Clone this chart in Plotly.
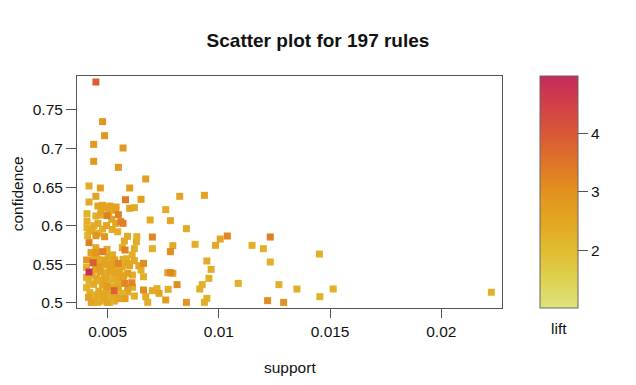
import numpy as np
import plotly.graph_objects as go

support = [
    0.00447, 0.00477, 0.00486, 0.00437, 0.00569, 0.00437, 0.00548, 0.00671, 0.00416, 0.00467,
    0.00599, 0.00447, 0.00824, 0.00935, 0.00580, 0.00650, 0.00416, 0.00456, 0.00477, 0.00497,
    0.00510, 0.00538, 0.00407, 0.00447, 0.00467, 0.00497, 0.00548, 0.00599, 0.00620, 0.00761,
    0.00407, 0.00456, 0.00518, 0.00691, 0.00782, 0.00559, 0.00569, 0.00536, 0.00407, 0.00416,
    0.00438, 0.00477, 0.00447, 0.00486, 0.00589, 0.00631, 0.00701, 0.00854, 0.01006, 0.01038,
    0.00629, 0.00416, 0.00447, 0.00566, 0.00578, 0.00620, 0.00701, 0.00793, 0.00782, 0.00893,
    0.00985, 0.01149, 0.01200, 0.01231, 0.01452, 0.00447, 0.00477, 0.00497, 0.00405, 0.00435,
    0.00416, 0.00456, 0.00486, 0.00518, 0.00548, 0.00527, 0.00508, 0.00569, 0.00620, 0.00661,
    0.00650, 0.00590, 0.00946, 0.01231, 0.00965, 0.00405, 0.00446, 0.00467, 0.00488, 0.00510,
    0.00529, 0.00590, 0.00611, 0.00770, 0.00782, 0.00793, 0.00661, 0.00568, 0.00955, 0.00405,
    0.00416, 0.00456, 0.00497, 0.00527, 0.00559, 0.00578, 0.00609, 0.00812, 0.00925, 0.01087,
    0.01270, 0.01351, 0.00405, 0.00437, 0.00477, 0.00497, 0.00529, 0.00548, 0.00590, 0.00661,
    0.00701, 0.00731, 0.00722, 0.00772, 0.00914, 0.00414, 0.00456, 0.00483, 0.00512, 0.00548,
    0.00578, 0.00620, 0.00671, 0.00761, 0.00946, 0.01219, 0.01454, 0.00426, 0.00456, 0.00497,
    0.00508, 0.00680, 0.00854, 0.00935, 0.01291, 0.01514, 0.02225,
    0.00425, 0.00436, 0.00445, 0.00462, 0.00472, 0.00492, 0.00503, 0.00515, 0.00522, 0.00532,
    0.00543, 0.00555, 0.00565, 0.00585, 0.00598, 0.00430, 0.00450, 0.00470, 0.00485, 0.00500,
    0.00520, 0.00538, 0.00550, 0.00572, 0.00420, 0.00440, 0.00460, 0.00478, 0.00495, 0.00505,
    0.00530, 0.00560, 0.00590, 0.00612, 0.00440, 0.00465, 0.00485, 0.00530, 0.00410, 0.00430,
    0.00460, 0.00495, 0.00520, 0.00545, 0.00470, 0.00505, 0.00535, 0.00575, 0.00610, 0.00640,
]

confidence = [
    0.7863, 0.7349, 0.7167, 0.7054, 0.7007, 0.6834, 0.6756, 0.6605, 0.6514, 0.6488,
    0.6488, 0.6380, 0.6380, 0.6393, 0.6336, 0.6341, 0.6306, 0.6254, 0.6263, 0.6233,
    0.6254, 0.6241, 0.6155, 0.6125, 0.6137, 0.6129, 0.6142, 0.6224, 0.6233, 0.6207,
    0.6060, 0.6029, 0.6081, 0.6073, 0.6064, 0.6051, 0.6029, 0.6029, 0.5973, 0.5952,
    0.5999, 0.5956, 0.5869, 0.5856, 0.5861, 0.5856, 0.5852, 0.5960, 0.5826, 0.5865,
    0.5791, 0.5779, 0.5714, 0.5714, 0.5683, 0.5701, 0.5701, 0.5740, 0.5662, 0.5757,
    0.5744, 0.5744, 0.5701, 0.5852, 0.5631, 0.5649, 0.5662, 0.5692, 0.5554, 0.5519,
    0.5398, 0.5562, 0.5554, 0.5545, 0.5510, 0.5502, 0.5606, 0.5562, 0.5545, 0.5510,
    0.5424, 0.5506, 0.5541, 0.5528, 0.5432, 0.5458, 0.5424, 0.5402, 0.5389, 0.5415,
    0.5381, 0.5381, 0.5359, 0.5389, 0.5389, 0.5381, 0.5337, 0.5337, 0.5316, 0.5329,
    0.5277, 0.5294, 0.5329, 0.5294, 0.5259, 0.5251, 0.5259, 0.5234, 0.5234, 0.5251,
    0.5234, 0.5177, 0.5195, 0.5238, 0.5229, 0.5208, 0.5156, 0.5203, 0.5195, 0.5164,
    0.5156, 0.5121, 0.5182, 0.5173, 0.5177, 0.5069, 0.5069, 0.5086, 0.5052, 0.5052,
    0.5052, 0.5086, 0.5078, 0.5035, 0.5056, 0.5026, 0.5078, 0.5004, 0.5004, 0.5004,
    0.5004, 0.5004, 0.5004, 0.5004, 0.5004, 0.5178, 0.5135,
    0.5650, 0.5590, 0.5480, 0.5460, 0.5530, 0.5490, 0.5580, 0.5470, 0.5620, 0.5555,
    0.5430, 0.5400, 0.5470, 0.5570, 0.5480, 0.5360, 0.5320, 0.5280, 0.5310, 0.5250,
    0.5200, 0.5275, 0.5330, 0.5350, 0.5130, 0.5100, 0.5150, 0.5120, 0.5160, 0.5100,
    0.5080, 0.5120, 0.5140, 0.5200, 0.5030, 0.5020, 0.5040, 0.5020, 0.5870, 0.5930,
    0.5900, 0.6000, 0.5950, 0.5920, 0.6190, 0.6170, 0.6200, 0.5800, 0.5620, 0.5480,
]

lift = [
    3.9, 2.9, 2.9, 2.8, 2.8, 2.8, 2.8, 2.7, 2.4, 2.7,
    2.7, 2.6, 2.6, 2.6, 3.4, 2.7, 2.4, 2.5, 2.6, 2.5,
    2.6, 2.5, 2.2, 2.3, 2.4, 3.3, 3.3, 2.5, 2.4, 2.4,
    2.3, 2.4, 2.5, 2.4, 2.5, 3.3, 3.3, 2.5, 2.2, 2.3,
    2.4, 2.3, 2.9, 2.9, 2.4, 2.3, 3.2, 2.4, 2.5, 3.2,
    2.3, 3.3, 2.4, 2.4, 3.3, 2.3, 2.3, 2.4, 3.1, 2.3,
    2.4, 2.3, 2.3, 3.3, 2.3, 2.9, 3.3, 2.4, 2.9, 3.9,
    4.9, 2.4, 2.5, 2.3, 3.2, 2.6, 2.4, 2.3, 2.4, 3.1,
    2.3, 2.5, 2.4, 2.3, 2.3, 2.2, 2.5, 2.6, 2.4, 2.6,
    2.5, 2.7, 2.4, 2.5, 3.2, 2.5, 2.3, 2.6, 2.3, 2.3,
    2.2, 2.3, 2.4, 2.3, 2.4, 3.2, 3.2, 3.1, 2.3, 2.3,
    2.3, 2.3, 2.2, 2.4, 2.5, 2.8, 3.8, 2.5, 2.6, 3.1,
    2.4, 2.6, 2.3, 2.3, 2.3, 2.6, 2.4, 2.5, 2.3, 2.6,
    2.7, 2.3, 2.4, 2.8, 2.3, 3.1, 2.2, 2.6, 2.4, 2.5,
    2.3, 2.3, 2.9, 2.3, 3.0, 2.3, 2.2,
    2.6, 2.4, 2.5, 2.7, 2.4, 2.6, 2.3, 2.5, 2.4, 2.6,
    2.3, 2.5, 2.4, 2.3, 2.5, 2.3, 2.4, 2.3, 2.5, 2.3,
    2.4, 2.2, 2.4, 2.6, 2.3, 2.2, 2.4, 2.3, 2.5, 2.3,
    2.4, 2.2, 2.4, 2.3, 2.3, 2.4, 2.2, 2.3, 2.2, 2.4,
    2.3, 2.5, 2.4, 2.3, 2.5, 2.4, 2.6, 2.4, 2.3, 2.5,
]

x_ticks = [0.005, 0.01, 0.015, 0.02]
x_ticklabels = ["0.005", "0.01", "0.015", "0.02"]
y_ticks = [0.5, 0.55, 0.6, 0.65, 0.7, 0.75]
y_ticklabels = ["0.5", "0.55", "0.6", "0.65", "0.7", "0.75"]
cbar_ticks = [2, 3, 4]

LIFT_MIN, LIFT_MAX = 1.01, 4.98

order = np.argsort(lift, kind="stable")
sx = np.array(support)[order]
sy = np.array(confidence)[order]
sl = np.array(lift)[order]

# colour stops given in lift units, mapped to [0, 1]
stop_lifts = [1.01, 1.5, 2.0, 2.5, 3.0, 3.5, 4.0, 4.5, 4.98]
stop_cols = ["#DDE47E", "#DED150", "#E0BC30", "#E3A622", "#E2921E",
             "#DF7428", "#D95838", "#D04048", "#C72A5C"]
colorscale = [[(v - LIFT_MIN) / (LIFT_MAX - LIFT_MIN), c] for v, c in zip(stop_lifts, stop_cols)]
colorscale[0][0] = 0.0
colorscale[-1][0] = 1.0

FONT = "Liberation Sans, Arial, Helvetica, sans-serif"
GREY = "#555555"

fig = go.Figure()
fig.add_trace(go.Scatter(
    x=sx, y=sy, mode="markers",
    marker=dict(
        symbol="square", size=7, color=sl,
        colorscale=colorscale, cmin=LIFT_MIN, cmax=LIFT_MAX,
        line=dict(width=0),
        colorbar=dict(
            x=(540 - 77) / 425, xanchor="left", xpad=0,
            y=0.5, yanchor="middle", len=1.0, lenmode="fraction", ypad=0,
            thickness=38, outlinecolor="#666666", outlinewidth=1,
            tickvals=cbar_ticks, ticktext=[str(t) for t in cbar_ticks],
            ticks="outside", ticklen=10, tickcolor=GREY, tickwidth=1,
            tickfont=dict(family=FONT, size=15.5, color="#111111"),
        ),
    ),
    showlegend=False, hoverinfo="x+y",
))

fig.update_layout(
    width=636, height=385,
    margin=dict(l=77, r=134, t=76, b=77),
    paper_bgcolor="white", plot_bgcolor="white",
    font=dict(family=FONT, color="#111111"),
    title=dict(text="<b>Scatter plot for 197 rules</b>", x=0.5, xref="container", xanchor="center",
               y=1 - 40 / 385, yref="container", yanchor="middle",
               font=dict(family=FONT, size=19, color="#111111")),
    xaxis=dict(range=[0.00362, 0.02273], tickvals=x_ticks, ticktext=x_ticklabels,
               showgrid=False, zeroline=False, showline=True, mirror=True,
               linecolor=GREY, linewidth=1, ticks="outside", ticklen=9, tickcolor=GREY,
               tickfont=dict(family=FONT, size=15.5, color="#111111")),
    yaxis=dict(range=[0.4931, 0.7941], tickvals=y_ticks, ticktext=y_ticklabels,
               showgrid=False, zeroline=False, showline=True, mirror=True,
               linecolor=GREY, linewidth=1, ticks="outside", ticklen=10, tickcolor=GREY,
               tickfont=dict(family=FONT, size=15.5, color="#111111")),
    annotations=[
        dict(text="support", xref="paper", yref="paper", x=0.5, y=-(367 - 308) / 232,
             xanchor="center", yanchor="middle", showarrow=False,
             font=dict(family=FONT, size=15.5, color="#111111")),
        dict(text="confidence", xref="paper", yref="paper", x=(17 - 77) / 425, y=0.49,
             xanchor="center", yanchor="middle", textangle=-90, showarrow=False,
             font=dict(family=FONT, size=15.5, color="#111111")),
        dict(text="lift", xref="paper", yref="paper", x=(559 - 77) / 425, y=-(328 - 308) / 232,
             xanchor="center", yanchor="middle", showarrow=False,
             font=dict(family=FONT, size=15.5, color="#111111")),
    ],
)

fig.write_html(
    "out.html",
    config={"displayModeBar": False},
    post_script="document.body.style.margin='0';document.body.style.overflow='hidden';",
)
